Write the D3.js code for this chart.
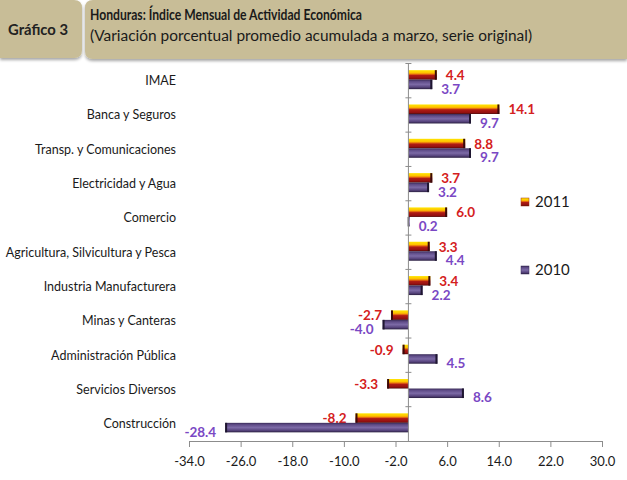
<!DOCTYPE html>
<html>
<head>
<meta charset="utf-8">
<script src="https://cdn.jsdelivr.net/npm/d3@7"></script>
<style>
  body { margin: 0; background: #fff; }
  text { font-family: Lato, 'Open Sans', sans-serif; }
</style>
</head>
<body>
<div id="chart-area"></div>
<script>
// data
var categories = ['IMAE', 'Banca y Seguros', 'Transp. y Comunicaciones', 'Electricidad y Agua',
  'Comercio', 'Agricultura, Silvicultura y Pesca', 'Industria Manufacturera', 'Minas y Canteras',
  'Administración Pública', 'Servicios Diversos', 'Construcción'];
var values2011 = [4.4, 14.1, 8.8, 3.7, 6.0, 3.3, 3.4, -2.7, -0.9, -3.3, -8.2];
var values2010 = [3.7, 9.7, 9.7, 3.2, 0.2, 4.4, 2.2, -4.0, 4.5, 8.6, -28.4];
var seriesNames = ['2011', '2010'];
var xTicks = [-34, -26, -18, -10, -2, 6, 14, 22, 30];

var W = 627, H = 480;

// plain hyphen for negatives, like the original
var fmt = function(v) { return v.toFixed(1); };

var svg = d3.select('#chart-area')
  .append('svg')
  .attr('width', W)
  .attr('height', H);

var defs = svg.append('defs');

// shadow for header boxes
var sh = defs.append('filter').attr('id', 'shadow')
  .attr('x', '-5%').attr('y', '-10%').attr('width', '110%').attr('height', '130%');
sh.append('feDropShadow').attr('dx', 0).attr('dy', 2).attr('stdDeviation', 1.5)
  .attr('flood-color', '#000').attr('flood-opacity', 0.35);

// bar gradients
var g1 = defs.append('linearGradient').attr('id', 'grad2011')
  .attr('x1', 0).attr('y1', 0).attr('x2', 0).attr('y2', 1);
[['0%', '#ffe600'], ['30%', '#ffc000'], ['45%', '#e06010'], ['55%', '#b01c14'],
 ['85%', '#941010'], ['100%', '#4a0808']].forEach(function(s) {
  g1.append('stop').attr('offset', s[0]).attr('stop-color', s[1]);
});
var g2 = defs.append('linearGradient').attr('id', 'grad2010')
  .attr('x1', 0).attr('y1', 0).attr('x2', 0).attr('y2', 1);
[['0%', '#3a2c58'], ['20%', '#5f4c88'], ['50%', '#7c6aa6'], ['80%', '#56437c'],
 ['100%', '#2a1f40']].forEach(function(s) {
  g2.append('stop').attr('offset', s[0]).attr('stop-color', s[1]);
});

// Header
var hdr = svg.append('g');
hdr.append('path')
  .attr('d', 'M0,0 H74 Q82,0 82,8 V50 Q82,58 74,58 H0 Z')
  .attr('fill', '#c8bd97')
  .attr('filter', 'url(#shadow)');
hdr.append('path')
  .attr('d', 'M93,0 H627 V59 H93 Q85,59 85,51 V8 Q85,0 93,0 Z')
  .attr('fill', '#c8bd97')
  .attr('filter', 'url(#shadow)');
hdr.append('text')
  .attr('x', 8).attr('y', 35)
  .attr('font-size', '15px').attr('font-weight', 'bold').attr('fill', '#222')
  .attr('textLength', 60).attr('lengthAdjust', 'spacingAndGlyphs')
  .text('Gráfico 3');
hdr.append('text')
  .attr('x', 90).attr('y', 20)
  .attr('font-size', '15px').attr('font-weight', 'bold').attr('fill', '#1a1a1a')
  .attr('textLength', 272).attr('lengthAdjust', 'spacingAndGlyphs')
  .text('Honduras: Índice Mensual de Actividad Económica');
hdr.append('text')
  .attr('x', 90).attr('y', 41)
  .attr('font-size', '14.5px').attr('fill', '#1a1a1a')
  .attr('textLength', 442).attr('lengthAdjust', 'spacingAndGlyphs')
  .text('(Variación porcentual promedio acumulada a marzo, serie original)');

// Scales
var x = d3.scaleLinear()
  .domain([-34, 30])
  .range([189, 602]);

var y = d3.scaleBand()
  .domain(categories)
  .range([63.5, 441]);

var ySub = d3.scaleBand()
  .domain(seriesNames)
  .range([-10.5, 8.5]);

var rows = categories.map(function(c, i) {
  return { cat: c, v2011: values2011[i], v2010: values2010[i] };
});

var chart = svg.append('g');

// category labels
chart.selectAll('.cat')
  .data(categories)
  .enter().append('text')
    .attr('class', 'cat')
    .attr('x', 176)
    .attr('y', function(d) { return y(d) + y.bandwidth() / 2; })
    .attr('dy', '0.35em')
    .attr('text-anchor', 'end')
    .attr('font-size', '12.5px')
    .attr('fill', '#1a1a1a')
    .text(function(d) { return d; });

// bars
var series = [
  { name: '2011', key: 'v2011', fill: 'url(#grad2011)', cap: '#3a0a0a', label: '#d42020', dy: 0.5 },
  { name: '2010', key: 'v2010', fill: 'url(#grad2010)', cap: '#1e1630', label: '#7a48c4', dy: 4.5 }
];

series.forEach(function(s) {
  var grp = chart.append('g');
  var barY = function(d) { return y(d.cat) + y.bandwidth() / 2 + ySub(s.name); };

  grp.selectAll('rect.bar')
    .data(rows)
    .enter().append('rect')
      .attr('class', 'bar')
      .attr('x', function(d) { return Math.min(x(0), x(d[s.key])); })
      .attr('y', barY)
      .attr('width', function(d) { return Math.abs(x(d[s.key]) - x(0)); })
      .attr('height', ySub.bandwidth())
      .attr('fill', s.fill);

  // dark end caps
  grp.selectAll('rect.cap')
    .data(rows)
    .enter().append('rect')
      .attr('class', 'cap')
      .attr('x', function(d) { return d[s.key] >= 0 ? x(d[s.key]) - 2 : x(d[s.key]); })
      .attr('y', barY)
      .attr('width', function(d) { return Math.min(2, Math.abs(x(d[s.key]) - x(0))); })
      .attr('height', ySub.bandwidth())
      .attr('fill', s.cap);

  grp.selectAll('text.lbl')
    .data(rows)
    .enter().append('text')
      .attr('class', 'lbl')
      .attr('x', function(d) { return d[s.key] >= 0 ? x(d[s.key]) + 9 : x(d[s.key]) - 9; })
      .attr('y', function(d) { return barY(d) + ySub.bandwidth() / 2 + s.dy; })
      .attr('dy', '0.35em')
      .attr('text-anchor', function(d) { return d[s.key] >= 0 ? 'start' : 'end'; })
      .attr('font-size', '13.5px')
      .attr('font-weight', 'bold')
      .attr('fill', s.label)
      .text(function(d) { return fmt(d[s.key]); });
});

// vertical axis at zero
chart.append('line')
  .attr('x1', x(0)).attr('x2', x(0))
  .attr('y1', 63.5).attr('y2', 441)
  .attr('stroke', '#8c8c8c');
var bounds = categories.map(function(c) { return y(c); });
chart.selectAll('.ytick')
  .data(bounds)
  .enter().append('line')
    .attr('x1', x(0) - 3).attr('x2', x(0) + 3)
    .attr('y1', function(d) { return d; })
    .attr('y2', function(d) { return d; })
    .attr('stroke', '#8c8c8c');

// X Axis
var xAxisGroup = chart.append('g')
  .attr('transform', 'translate(0, 441)')
  .call(d3.axisBottom(x)
    .tickValues(xTicks)
    .tickSize(6)
    .tickPadding(10)
    .tickFormat(fmt));
xAxisGroup.select('.domain').attr('stroke', '#8c8c8c');
xAxisGroup.selectAll('.tick line').attr('stroke', '#8c8c8c');
xAxisGroup.selectAll('.tick text')
  .attr('font-family', 'Lato, sans-serif')
  .attr('font-size', '13px')
  .attr('fill', '#1a1a1a');

// Legend
var legend = svg.append('g');
var legendY = [202, 270];
seriesNames.forEach(function(n, i) {
  legend.append('rect')
    .attr('x', 521).attr('y', legendY[i] - 4)
    .attr('width', 8).attr('height', 8)
    .attr('fill', series[i].fill)
    .attr('stroke', i === 0 ? '#a03010' : '#3a2c58').attr('stroke-width', 0.5);
  legend.append('text')
    .attr('x', 535).attr('y', legendY[i])
    .attr('dy', '0.35em')
    .attr('font-size', '15px')
    .attr('fill', '#1a1a1a')
    .text(n);
});
</script>
</body>
</html>
